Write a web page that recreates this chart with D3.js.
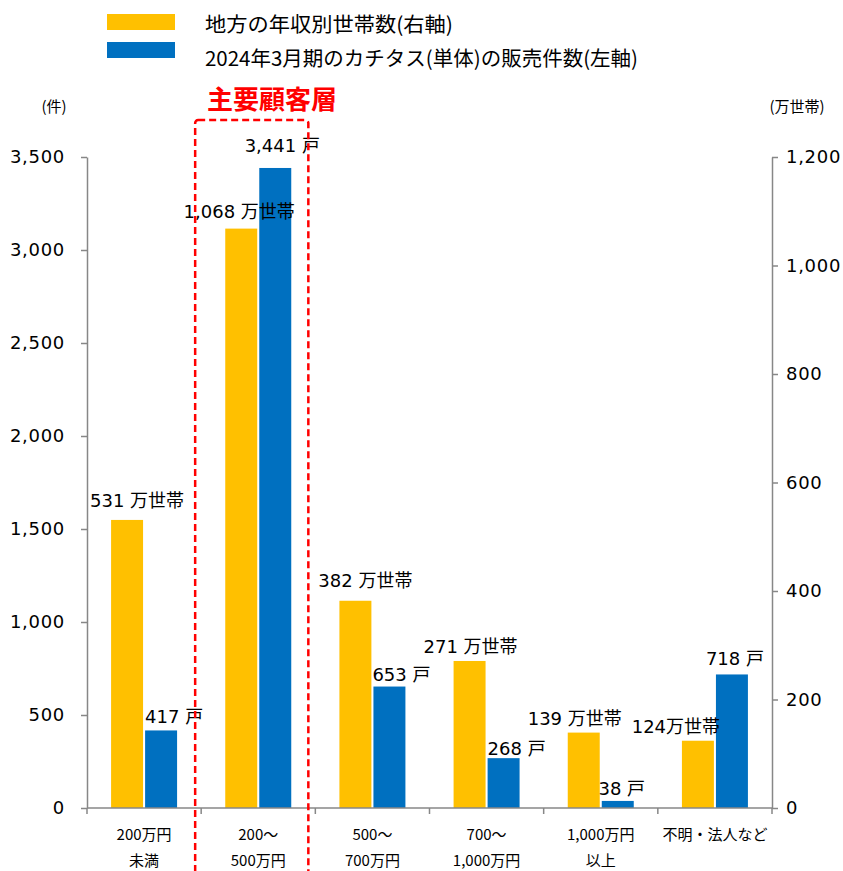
<!DOCTYPE html>
<html>
<head>
<meta charset="utf-8">
<script src="https://cdn.jsdelivr.net/npm/d3@7"></script>
<style>
  html, body { margin: 0; padding: 0; background: #fff; }
  svg { display: block; }
  .num { font-family: "DejaVu Sans", Verdana, "Noto Sans CJK JP", sans-serif; }
  .jp { font-family: "Noto Sans CJK JP", "DejaVu Sans", sans-serif; }
</style>
</head>
<body>
<svg id="chart" width="843" height="871"></svg>
<script>
// Income bands (two-line labels)
const categories = ["200万円未満", "200～500万円", "500～700万円", "700～1,000万円", "1,000万円以上", "不明・法人など"];
const categoryLines = [["200万円", "未満"], ["200～", "500万円"], ["500～", "700万円"], ["700～", "1,000万円"], ["1,000万円", "以上"], ["不明・法人など"]];

// Regional households by annual income (万世帯, right axis)
const households = [531, 1068, 382, 271, 139, 124];
// Katitas unit sales, FY ending March 2024 (戸, left axis)
const sales = [417, 3441, 653, 268, 38, 718];

const leftTicks = [0, 500, 1000, 1500, 2000, 2500, 3000, 3500];
const rightTicks = [0, 200, 400, 600, 800, 1000, 1200];

const seriesNames = ["地方の年収別世帯数(右軸)", "2024年3月期のカチタス(単体)の販売件数(左軸)"];
const highlightLabel = "主要顧客層";

// Label nudges (px) so value labels sit clear of neighbours
const householdLabelNudge = [[10, -19], [-2, -17], [10, -20], [1, -14], [-9, -14], [-22, -14]];
const salesLabelNudge = [[13, -14], [7, -22], [12, -12], [13, -10], [4, -12], [3, -16]];

const YELLOW = "#FFC000", BLUE = "#0070C0", AXIS = "#878787", RED = "#FF0000";

const svg = d3.select("#chart");
const plot = { left: 87, right: 772, top: 157, bottom: 808 };

const x0 = d3.scaleBand().domain(categories).range([plot.left, plot.right]).padding(0);
const x1 = d3.scaleBand().domain(["households", "sales"]).range([-33, 33]).paddingInner(0.06);
const yLeft = d3.scaleLinear().domain([0, 3500]).range([plot.bottom, plot.top]);
const yRight = d3.scaleLinear().domain([0, 1200]).range([plot.bottom, plot.top]);

const fmt = d3.format(",");

// Bars
const g = svg.append("g");
categories.forEach((c, i) => {
  const cx = x0(c) + x0.bandwidth() / 2;
  g.append("rect")
    .attr("x", cx + x1("households")).attr("width", x1.bandwidth())
    .attr("y", yRight(households[i])).attr("height", yRight(0) - yRight(households[i]))
    .attr("fill", YELLOW);
  g.append("rect")
    .attr("x", cx + x1("sales")).attr("width", x1.bandwidth())
    .attr("y", yLeft(sales[i])).attr("height", yLeft(0) - yLeft(sales[i]))
    .attr("fill", BLUE);
});

// Value labels
categories.forEach((c, i) => {
  const cx = x0(c) + x0.bandwidth() / 2;
  const hx = cx + x1("households") + x1.bandwidth() / 2;
  const sx = cx + x1("sales") + x1.bandwidth() / 2;
  const hText = fmt(households[i]) + (i === 5 ? "万世帯" : " 万世帯");
  svg.append("text").attr("class", "num")
    .attr("x", hx + householdLabelNudge[i][0])
    .attr("y", yRight(households[i]) + householdLabelNudge[i][1])
    .attr("text-anchor", "middle").attr("dominant-baseline", "central")
    .attr("font-size", 18).attr("fill", "#000").text(hText);
  svg.append("text").attr("class", "num")
    .attr("x", sx + salesLabelNudge[i][0])
    .attr("y", yLeft(sales[i]) + salesLabelNudge[i][1])
    .attr("text-anchor", "middle").attr("dominant-baseline", "central")
    .attr("font-size", 18).attr("fill", "#000").text(fmt(sales[i]) + " 戸");
});

// Left axis
const leftAxis = svg.append("g").attr("transform", `translate(${plot.left},0)`)
  .call(d3.axisLeft(yLeft).tickValues(leftTicks).tickFormat(fmt).tickSize(6).tickSizeOuter(0).tickPadding(16));
// Right axis
const rightAxis = svg.append("g").attr("transform", `translate(${plot.right},0)`)
  .call(d3.axisRight(yRight).tickValues(rightTicks).tickFormat(fmt).tickSize(6).tickSizeOuter(0).tickPadding(8));
[leftAxis, rightAxis].forEach(a => {
  a.select(".domain").attr("stroke", AXIS).attr("stroke-width", 1.5);
  a.selectAll(".tick line").attr("stroke", AXIS).attr("stroke-width", 1.5);
  a.selectAll(".tick text").attr("class", "num").attr("font-size", 18)
    .attr("letter-spacing", "0.7px").attr("fill", "#000");
});

// Bottom axis with ticks on the band boundaries
const boundaries = categories.map(c => x0(c)).concat([plot.right]);
svg.append("line").attr("x1", plot.left).attr("x2", plot.right)
  .attr("y1", plot.bottom).attr("y2", plot.bottom)
  .attr("stroke", AXIS).attr("stroke-width", 1.5);
svg.selectAll(".btick").data(boundaries).join("line")
  .attr("x1", d => d).attr("x2", d => d)
  .attr("y1", plot.bottom).attr("y2", plot.bottom + 6)
  .attr("stroke", AXIS).attr("stroke-width", 1.5);

categories.forEach((c, i) => {
  const cx = x0(c) + x0.bandwidth() / 2;
  categoryLines[i].forEach((line, j) => {
    svg.append("text").attr("class", "jp")
      .attr("x", cx).attr("y", 833 + j * 26)
      .attr("text-anchor", "middle").attr("dominant-baseline", "central")
      .attr("font-size", 15).attr("fill", "#000").text(line);
  });
});

// Axis unit captions
svg.append("text").attr("class", "jp").attr("x", 54).attr("y", 105)
  .attr("text-anchor", "middle").attr("dominant-baseline", "central")
  .attr("font-size", 15).text("(件)");
svg.append("text").attr("class", "jp").attr("x", 797).attr("y", 105)
  .attr("text-anchor", "middle").attr("dominant-baseline", "central")
  .attr("font-size", 15).text("(万世帯)");

// Legend
const legendColors = [YELLOW, BLUE];
const legendWidths = [248, 433];
seriesNames.forEach((name, i) => {
  svg.append("rect").attr("x", 107).attr("y", 14 + i * 28).attr("width", 68).attr("height", 16)
    .attr("fill", legendColors[i]);
  svg.append("text").attr("class", "jp").attr("x", 205).attr("y", 23 + i * 34)
    .attr("dominant-baseline", "central").attr("font-size", 20.5)
    .attr("textLength", legendWidths[i]).attr("lengthAdjust", "spacingAndGlyphs")
    .attr("fill", "#000").text(name);
});

// Highlighted core-customer band
const hi0 = x0(categories[1]);
svg.append("rect")
  .attr("x", hi0 - 6).attr("y", 120)
  .attr("width", x0.bandwidth() - 1).attr("height", 800)
  .attr("rx", 3)
  .attr("fill", "none").attr("stroke", RED).attr("stroke-width", 2.5)
  .attr("stroke-dasharray", "7,4");
svg.append("text").attr("class", "jp")
  .attr("x", 207).attr("y", 97)
  .attr("dominant-baseline", "central")
  .attr("font-size", 26).attr("font-weight", "bold").attr("fill", RED).text(highlightLabel);
</script>
</body>
</html>
